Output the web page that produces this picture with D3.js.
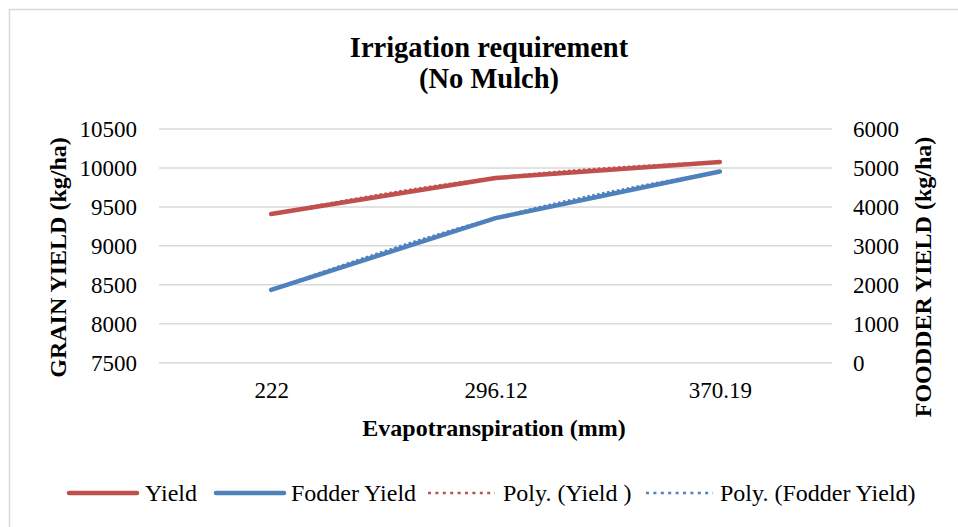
<!DOCTYPE html>
<html>
<head>
<meta charset="utf-8">
<script src="https://cdn.jsdelivr.net/npm/d3@7"></script>
<style>
  body { margin: 0; background: #fff; }
  svg text { font-family: "Liberation Serif", "Times New Roman", serif; fill: #000; }
</style>
</head>
<body>
<div id="chart"></div>
<script>
// data
var categories = ["222", "296.12", "370.19"];
var grainYield = [9410, 9871, 10077];   // left axis
var fodderYield = [1870, 3712, 4910];   // right axis
var leftTicks = [7500, 8000, 8500, 9000, 9500, 10000, 10500];
var rightTicks = [0, 1000, 2000, 3000, 4000, 5000, 6000];

var W = 958, H = 527;
var margin = {top: 129, right: 126, bottom: 164.3, left: 159};

var svg = d3.select("#chart").append("svg")
    .attr("width", W)
    .attr("height", H);

// chart frame
svg.append("rect")
    .attr("x", 9.5).attr("y", 9.5)
    .attr("width", W + 10).attr("height", H + 10)
    .attr("fill", "#fff")
    .attr("stroke", "#d9d9d9")
    .attr("stroke-width", 1.5);

var x = d3.scalePoint()
    .domain(categories)
    .range([margin.left, W - margin.right])
    .padding(0.5);

var yL = d3.scaleLinear()
    .domain([7500, 10500])
    .range([H - margin.bottom, margin.top]);

var yR = d3.scaleLinear()
    .domain([0, 6000])
    .range([H - margin.bottom, margin.top]);

// gridlines
svg.append("g")
    .selectAll("line")
    .data(leftTicks)
    .enter().append("line")
    .attr("x1", margin.left)
    .attr("x2", W - margin.right)
    .attr("y1", function(d) { return yL(d); })
    .attr("y2", function(d) { return yL(d); })
    .attr("stroke", "#d9d9d9")
    .attr("stroke-width", 1.5);

// left axis
var gL = svg.append("g")
    .attr("transform", "translate(" + margin.left + ",0)")
    .call(d3.axisLeft(yL).tickValues(leftTicks).tickFormat(d3.format("d")).tickSize(0).tickPadding(22));
gL.select(".domain").remove();
gL.selectAll("text")
    .style("font-size", "23px")
    .style("font-family", "Liberation Serif");

// right axis
var gR = svg.append("g")
    .attr("transform", "translate(" + (W - margin.right) + ",0)")
    .call(d3.axisRight(yR).tickValues(rightTicks).tickFormat(d3.format("d")).tickSize(0).tickPadding(21));
gR.select(".domain").remove();
gR.selectAll("text")
    .style("font-size", "23px")
    .style("font-family", "Liberation Serif");

// bottom axis
var gB = svg.append("g")
    .attr("transform", "translate(0," + (H - margin.bottom) + ")")
    .call(d3.axisBottom(x).tickSize(0).tickPadding(19));
gB.select(".domain").remove();
gB.selectAll("text")
    .style("font-size", "23px")
    .style("font-family", "Liberation Serif");

// titles
svg.append("text")
    .attr("x", 489).attr("y", 57)
    .attr("text-anchor", "middle")
    .style("font-size", "28.5px").style("font-weight", "bold")
    .text("Irrigation requirement");
svg.append("text")
    .attr("x", 489).attr("y", 88)
    .attr("text-anchor", "middle")
    .style("font-size", "28.5px").style("font-weight", "bold")
    .text("(No Mulch)");

svg.append("text")
    .attr("x", 494).attr("y", 436)
    .attr("text-anchor", "middle")
    .style("font-size", "24px").style("font-weight", "bold")
    .text("Evapotranspiration (mm)");

svg.append("text")
    .attr("transform", "translate(66,257.5) rotate(-90)")
    .attr("text-anchor", "middle")
    .style("font-size", "24px").style("font-weight", "bold")
    .text("GRAIN YIELD (kg/ha)");

svg.append("text")
    .attr("transform", "translate(931,277) rotate(-90)")
    .attr("text-anchor", "middle")
    .style("font-size", "24px").style("font-weight", "bold")
    .text("FOODDER YIELD (kg/ha)");

// series
var red = "#c0504d", blue = "#4f81bd";

var lineL = d3.line()
    .x(function(d, i) { return x(categories[i]); })
    .y(function(d) { return yL(d); });
var lineR = d3.line()
    .x(function(d, i) { return x(categories[i]); })
    .y(function(d) { return yR(d); });

svg.append("path")
    .datum(grainYield)
    .attr("d", lineL)
    .attr("fill", "none").attr("stroke", red)
    .attr("stroke-width", 4.5).attr("stroke-linecap", "round").attr("stroke-linejoin", "round");

svg.append("path")
    .datum(fodderYield)
    .attr("d", lineR)
    .attr("fill", "none").attr("stroke", blue)
    .attr("stroke-width", 4.5).attr("stroke-linecap", "round").attr("stroke-linejoin", "round");

// polynomial trendlines (smooth curve through the same points)
svg.append("path")
    .datum(grainYield)
    .attr("d", lineL.curve(d3.curveNatural))
    .attr("fill", "none").attr("stroke", red)
    .attr("stroke-width", 2.5).attr("stroke-dasharray", "2.5,2.5");

svg.append("path")
    .datum(fodderYield)
    .attr("d", lineR.curve(d3.curveNatural))
    .attr("fill", "none").attr("stroke", blue)
    .attr("stroke-width", 2.5).attr("stroke-dasharray", "2.5,2.5");

// legend
var legendItems = [
  {label: "Yield", color: red, dotted: false, x: 67, tx: 145},
  {label: "Fodder Yield", color: blue, dotted: false, x: 214, tx: 291},
  {label: "Poly. (Yield )", color: red, dotted: true, x: 428, tx: 503},
  {label: "Poly. (Fodder Yield)", color: blue, dotted: true, x: 646, tx: 720}
];
var lg = svg.append("g").attr("transform", "translate(0,493)");
var item = lg.selectAll("g").data(legendItems).enter().append("g");
item.append("line")
    .attr("x1", function(d) { return d.dotted ? d.x : d.x + 2; })
    .attr("x2", function(d) { return d.dotted ? d.x + 67 : d.x + 70; })
    .attr("y1", 0).attr("y2", 0)
    .attr("stroke", function(d) { return d.color; })
    .attr("stroke-width", function(d) { return d.dotted ? 2.5 : 4.5; })
    .attr("stroke-linecap", function(d) { return d.dotted ? "butt" : "round"; })
    .attr("stroke-dasharray", function(d) { return d.dotted ? "3,4.4" : null; });
item.append("text")
    .attr("x", function(d) { return d.tx; })
    .attr("y", 8)
    .style("font-size", "24px")
    .text(function(d) { return d.label; });
</script>
</body>
</html>
